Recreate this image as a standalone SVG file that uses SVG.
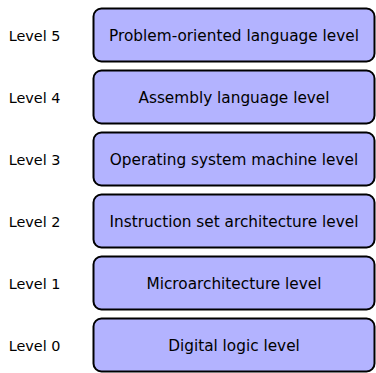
<svg xmlns="http://www.w3.org/2000/svg" width="376" height="373" viewBox="0 0 376 373">
<style>
.box{fill:#b3b3ff;stroke:#000;stroke-width:2}
.t{font-family:"DejaVu Sans",sans-serif;font-size:15.3px;text-anchor:middle;fill:#000}
.l{font-family:"DejaVu Sans",sans-serif;font-size:14.4px;text-anchor:middle;fill:#000}
</style>
<rect width="376" height="373" fill="#fff"/>
<g id="n5"><rect class="box" x="93.5" y="8.5" width="281" height="53" rx="8"/><text class="t" x="234" y="40.5">Problem-oriented language level</text></g>
<g id="n4"><rect class="box" x="93.5" y="70.5" width="281" height="53" rx="8"/><text class="t" x="234" y="102.5">Assembly language level</text></g>
<g id="n3"><rect class="box" x="93.5" y="132.5" width="281" height="53" rx="8"/><text class="t" x="234" y="164.5">Operating system machine level</text></g>
<g id="n2"><rect class="box" x="93.5" y="194.5" width="281" height="53" rx="8"/><text class="t" x="234" y="226.5">Instruction set architecture level</text></g>
<g id="n1"><rect class="box" x="93.5" y="256.5" width="281" height="53" rx="8"/><text class="t" x="234" y="288.5">Microarchitecture level</text></g>
<g id="n0"><rect class="box" x="93.5" y="318.5" width="281" height="53" rx="8"/><text class="t" x="234" y="350.5">Digital logic level</text></g>
<g id="labels">
<text class="l" x="34.5" y="40.5">Level 5</text>
<text class="l" x="34.5" y="102.5">Level 4</text>
<text class="l" x="34.5" y="164.5">Level 3</text>
<text class="l" x="34.5" y="226.5">Level 2</text>
<text class="l" x="34.5" y="288.5">Level 1</text>
<text class="l" x="34.5" y="350.5">Level 0</text>
</g>
<g id="connectors"/>
</svg>
